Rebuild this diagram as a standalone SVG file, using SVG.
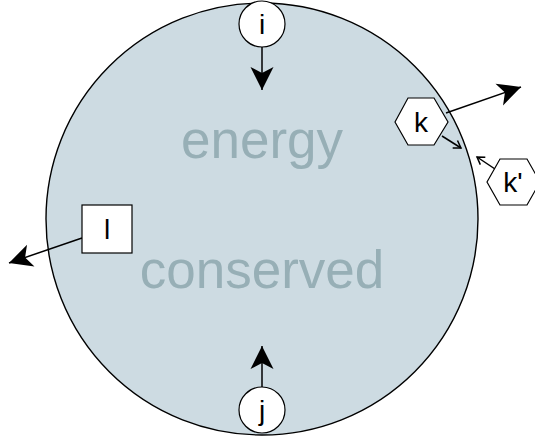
<svg xmlns="http://www.w3.org/2000/svg" width="535" height="436" viewBox="0 0 535 436">
<style>
.node{fill:#fff;stroke:#000;stroke-width:1.2}
.lbl{font-family:"Liberation Sans",Arial,sans-serif;font-size:28px;fill:#000;text-anchor:middle}
.big{font-family:"Liberation Sans",Arial,sans-serif;font-size:53px;fill:#97afb6;text-anchor:middle}
.c{stroke:#000;stroke-width:1.5;fill:none}
</style>
<defs>
<marker id="ah" viewBox="-25 -15 30 30" refX="0" refY="0" markerWidth="30" markerHeight="30" markerUnits="userSpaceOnUse" orient="auto">
<path d="M-23,-11.5 L0,0 L-23,11.5 L-17,0 Z" fill="#000"/>
</marker>
<marker id="oh" viewBox="-10 -6 12 12" refX="0" refY="0" markerWidth="12" markerHeight="12" markerUnits="userSpaceOnUse" orient="auto">
<path d="M-7,-4.5 L0,0 L-7,4.5" fill="none" stroke="#000" stroke-width="1.5"/>
</marker>
</defs>
<g id="system">
<circle cx="262" cy="219" r="216" fill="#cddbe2" stroke="#000" stroke-width="1.4"/>
<text class="big" x="262" y="158">energy</text>
<text class="big" x="262" y="288">conserved</text>
</g>
<g id="connectors">
<line class="c" x1="262" y1="47" x2="262" y2="90" marker-end="url(#ah)"/>
<line class="c" x1="262" y1="387" x2="262" y2="346" marker-end="url(#ah)"/>
<line class="c" x1="446" y1="113" x2="521" y2="87" marker-end="url(#ah)"/>
<line class="c" x1="82" y1="238" x2="9" y2="263" marker-end="url(#ah)"/>
<line class="c" x1="442" y1="136" x2="461" y2="148" marker-end="url(#oh)"/>
<line class="c" x1="495" y1="169" x2="477" y2="157" marker-end="url(#oh)"/>
</g>
<g id="node-i">
<circle class="node" cx="262" cy="24" r="23"/>
<text class="lbl" x="262" y="34">i</text>
</g>
<g id="node-j">
<circle class="node" cx="262" cy="410" r="23"/>
<text class="lbl" x="262" y="420">j</text>
</g>
<g id="node-k">
<polygon class="node" points="395,122 408,98 434,98 448,122 434,145 408,145"/>
<text class="lbl" x="421" y="132">k</text>
</g>
<g id="node-k2">
<polygon class="node" points="487,182 500,159 527,159 540,182 527,205 500,205"/>
<text class="lbl" x="513" y="192">k'</text>
</g>
<g id="node-l">
<rect class="node" x="82" y="205" width="50" height="48"/>
<text class="lbl" x="107" y="239">l</text>
</g>
</svg>
